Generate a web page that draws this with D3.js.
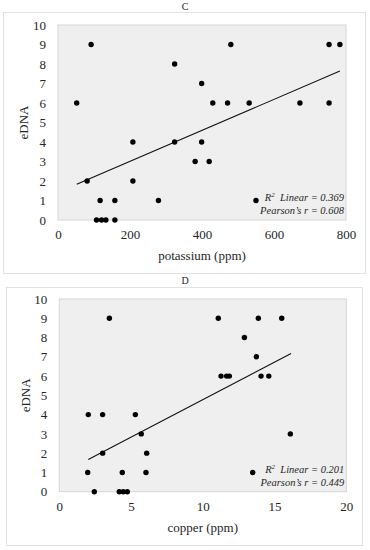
<!DOCTYPE html>
<html>
<head>
<meta charset="UTF-8">
<script src="https://cdn.jsdelivr.net/npm/d3@7"></script>
<style>
  body { margin: 0; background: #fff; }
  text { font-family: "Liberation Serif", "DejaVu Serif", serif; fill: #262626; }
</style>
</head>
<body>
<svg id="chart" width="370" height="550"></svg>
<script>
// panel C: potassium vs eDNA
const potassium = [52, 92, 324, 399, 430, 471, 480, 531, 672, 753, 753, 783,
  208, 324, 399, 381, 420, 81, 208, 117, 158, 279, 550, 107, 121, 133, 158]
const ednaC = [6, 9, 8, 7, 6, 6, 9, 6, 6, 9, 6, 9,
  4, 4, 4, 3, 3, 2, 2, 1, 1, 1, 1, 0, 0, 0, 0]
const fitC = { x: [52, 783], y: [1.83, 7.64] }
const statsC = ['Linear = 0.369', 'Pearson\u2019s r = 0.608']

// panel D: copper vs eDNA
const copper = [3.49, 11.08, 13.87, 15.5, 12.9, 13.73, 11.27, 11.66, 11.85, 14.06, 14.6,
  2.02, 3.02, 5.3, 5.71, 16.1, 3.02, 6.09, 1.98, 4.39, 6.04, 13.48, 2.44, 4.18, 4.46, 4.74]
const ednaD = [9, 9, 9, 9, 8, 7, 6, 6, 6, 6, 6,
  4, 4, 4, 3, 3, 2, 2, 1, 1, 1, 1, 0, 0, 0, 0]
const fitD = { x: [2.02, 16.15], y: [1.67, 7.17] }
const statsD = ['Linear = 0.201', 'Pearson\u2019s r = 0.449']

const yTicks = [0, 1, 2, 3, 4, 5, 6, 7, 8, 9, 10]

const svg = d3.select('#chart')

function panel(opt) {
  // outer frame
  svg.append('rect')
    .attr('x', opt.box[0] + 0.5).attr('y', opt.box[1] + 0.5)
    .attr('width', opt.box[2]).attr('height', opt.box[3])
    .attr('fill', '#fff').attr('stroke', '#e2e2e2')

  svg.append('text')
    .attr('x', 185).attr('y', opt.titleY)
    .attr('text-anchor', 'middle').attr('font-size', 10)
    .text(opt.title)

  const x = d3.scaleLinear().domain(opt.xDomain).range([opt.left, opt.right])
  const y = d3.scaleLinear().domain([0, 10]).range([opt.bottom, opt.top])

  // plot area
  svg.append('rect')
    .attr('x', opt.left).attr('y', opt.top)
    .attr('width', opt.right - opt.left).attr('height', opt.bottom - opt.top)
    .attr('fill', '#efefef').attr('stroke', '#d6d6d6')

  const g = svg.append('g')

  g.append('g')
    .attr('transform', 'translate(' + opt.left + ',0)')
    .call(d3.axisLeft(y).tickValues(yTicks).tickSize(0).tickPadding(12))
    .call(a => a.select('.domain').remove())
    .selectAll('text').attr('font-size', 13).style('font-family', '"Liberation Serif", serif').attr('fill', '#262626')

  g.append('g')
    .attr('transform', 'translate(0,' + opt.bottom + ')')
    .call(d3.axisBottom(x).tickValues(opt.xTicks).tickSize(0).tickPadding(10))
    .call(a => a.select('.domain').remove())
    .selectAll('text').attr('font-size', 13).style('font-family', '"Liberation Serif", serif').attr('fill', '#262626')

  svg.append('text')
    .attr('x', (opt.left + opt.right) / 2).attr('y', opt.bottom + 40)
    .attr('text-anchor', 'middle').attr('font-size', 13)
    .text(opt.xLabel)

  svg.append('text')
    .attr('transform', 'translate(' + opt.yLabelX + ',' + ((opt.top + opt.bottom) / 2) + ') rotate(-90)')
    .attr('text-anchor', 'middle').attr('font-size', 13)
    .text('eDNA')

  // fit line
  svg.append('path')
    .datum(d3.zip(opt.fit.x, opt.fit.y))
    .attr('fill', 'none').attr('stroke', '#111').attr('stroke-width', 1.1)
    .attr('d', d3.line().x(d => x(d[0])).y(d => y(d[1])))

  svg.append('g').selectAll('circle')
    .data(d3.zip(opt.xs, opt.ys))
    .join('circle')
    .attr('cx', d => x(d[0])).attr('cy', d => y(d[1]))
    .attr('r', 2.7).attr('fill', '#000')

  // stats note
  const note = svg.append('g').attr('font-style', 'italic').attr('font-size', 10.5)
  const t1 = note.append('text')
    .attr('x', opt.right - 2).attr('y', opt.bottom - 19)
    .attr('text-anchor', 'end')
  t1.append('tspan').text('R')
  t1.append('tspan').attr('font-size', 7).attr('dy', -4).text('2')
  t1.append('tspan').attr('dy', 4).text('\u00a0 ' + opt.stats[0])
  note.append('text')
    .attr('x', opt.right - 2).attr('y', opt.bottom - 6)
    .attr('text-anchor', 'end')
    .text(opt.stats[1])
}

panel({
  box: [3, 12, 362, 261], title: 'C', titleY: 10,
  left: 58, right: 346, top: 25, bottom: 220, yLabelX: 28,
  xDomain: [0, 800], xTicks: [0, 200, 400, 600, 800],
  xLabel: 'potassium (ppm)',
  xs: potassium, ys: ednaC, fit: fitC, stats: statsC
})

panel({
  box: [6, 287, 356, 258], title: 'D', titleY: 284,
  left: 59.3, right: 346.3, top: 299, bottom: 491.7, yLabelX: 30,
  xDomain: [0, 20], xTicks: [0, 5, 10, 15, 20],
  xLabel: 'copper (ppm)',
  xs: copper, ys: ednaD, fit: fitD, stats: statsD
})
</script>
</body>
</html>
